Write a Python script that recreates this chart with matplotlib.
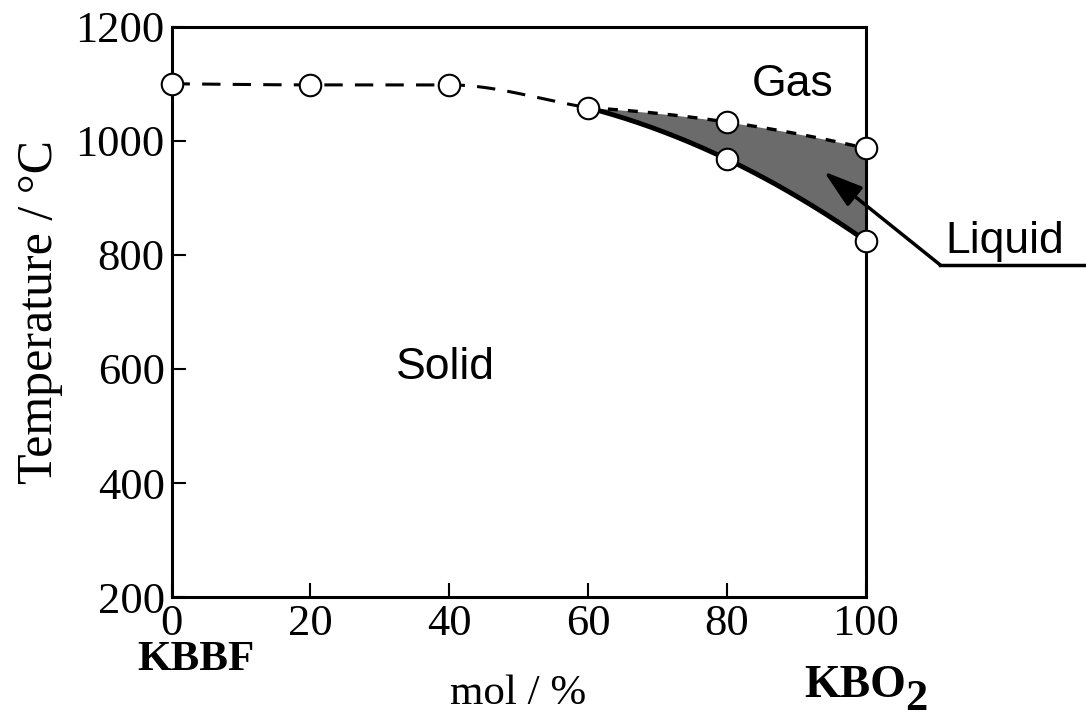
import numpy as np
import matplotlib
matplotlib.use("Agg")
import matplotlib.pyplot as plt

# measured points (mol % of KBO2, temperature in degC)
left_x = [0, 20, 40, 60]
left_t = [1100, 1098, 1098, 1058]
upper_x = [60, 80, 100]
upper_t = [1058, 1033, 987]
lower_x = [60, 80, 100]
lower_t = [1058, 968, 825]

xticks = [0, 20, 40, 60, 80, 100]
yticks = [200, 400, 600, 800, 1000, 1200]

serif = "Liberation Serif"
sans = "Liberation Sans"


def pchip(x, y, xn):
    # monotone cubic hermite, keeps the flat part flat
    x = np.asarray(x, float)
    y = np.asarray(y, float)
    h = np.diff(x)
    d = np.diff(y) / h
    m = np.zeros_like(y)
    for i in range(1, len(x) - 1):
        if d[i - 1] * d[i] > 0:
            m[i] = 2 / (1 / d[i - 1] + 1 / d[i])
    m[0] = d[0]
    m[-1] = d[-1]
    out = np.empty_like(xn)
    for j, xv in enumerate(xn):
        i = min(np.searchsorted(x, xv, side="right") - 1, len(x) - 2)
        t = (xv - x[i]) / h[i]
        out[j] = ((2 * t**3 - 3 * t**2 + 1) * y[i] + (t**3 - 2 * t**2 + t) * h[i] * m[i]
                  + (-2 * t**3 + 3 * t**2) * y[i + 1] + (t**3 - t**2) * h[i] * m[i + 1])
    return out


fig = plt.figure(figsize=(10.86, 7.22), dpi=100)
ax = fig.add_axes([0.158, 0.173, 0.639, 0.790])

xl = np.linspace(0, 60, 200)
yl = pchip(left_x, left_t, xl)
xu = np.linspace(60, 100, 200)
yu = np.polyval(np.polyfit(upper_x, upper_t, 2), xu)
ylo = np.polyval(np.polyfit(lower_x, lower_t, 2), xu)

ax.fill_between(xu, ylo, yu, color="0.42", lw=0, zorder=2)
ax.plot(xl, yl, ls=(0, (6, 4)), color="black", lw=2.2, zorder=3)
ax.plot(xu, yu, ls=(0, (3, 3)), color="black", lw=2.4, zorder=3)
ax.plot(xu, ylo, color="black", lw=3.5, zorder=3)

px = left_x + upper_x[1:] + lower_x[1:]
pt = left_t + upper_t[1:] + lower_t[1:]
ax.plot(px, pt, "o", ms=15.5, mfc="white", mec="black", mew=1.5,
        zorder=5, clip_on=False)

ax.set_xlim(0, 100)
ax.set_ylim(200, 1200)
ax.set_xticks(xticks)
ax.set_yticks(yticks)
ax.tick_params(direction="in", length=10, width=1.5, labelsize=32, pad=5)
for lab in ax.get_xticklabels() + ax.get_yticklabels():
    lab.set_fontfamily(serif)
for s in ax.spines.values():
    s.set_linewidth(2.2)

ax.set_ylabel("Temperature / °C", fontsize=36, fontfamily=serif, labelpad=9)
ax.set_xlabel("mol / %", fontsize=31, fontfamily=serif, labelpad=22)

ax.text(89.5, 1098, "Gas", fontsize=32, fontfamily=sans, ha="center", va="center")
ax.text(39.4, 602, "Solid", fontsize=32, fontfamily=sans, ha="center", va="center")
ax.text(111.5, 788, "Liquid", fontsize=32, fontfamily=sans, ha="left", va="bottom",
        clip_on=False)

# leader line for "Liquid"
ax.plot([110.8, 131.5], [782, 782], color="black", lw=2.5, clip_on=False, zorder=6)
ax.annotate("", xy=(94, 946), xytext=(110.8, 782),
            arrowprops=dict(arrowstyle="-|>,head_length=0.8,head_width=0.25",
                            color="black", lw=2.5,
                            mutation_scale=30, shrinkA=0, shrinkB=0),
            annotation_clip=False, zorder=6)

ax.text(0.035, -0.11, "KBBF", transform=ax.transAxes, fontsize=31,
        fontfamily=serif, fontweight="bold", ha="center", va="center")
ax.text(1.058, -0.175, "KBO", transform=ax.transAxes, fontsize=33,
        fontfamily=serif, fontweight="bold", ha="right", va="baseline")
ax.text(1.057, -0.198, "2", transform=ax.transAxes, fontsize=32,
        fontfamily=serif, fontweight="bold", ha="left", va="baseline")

fig.savefig("out.png", dpi=100)
